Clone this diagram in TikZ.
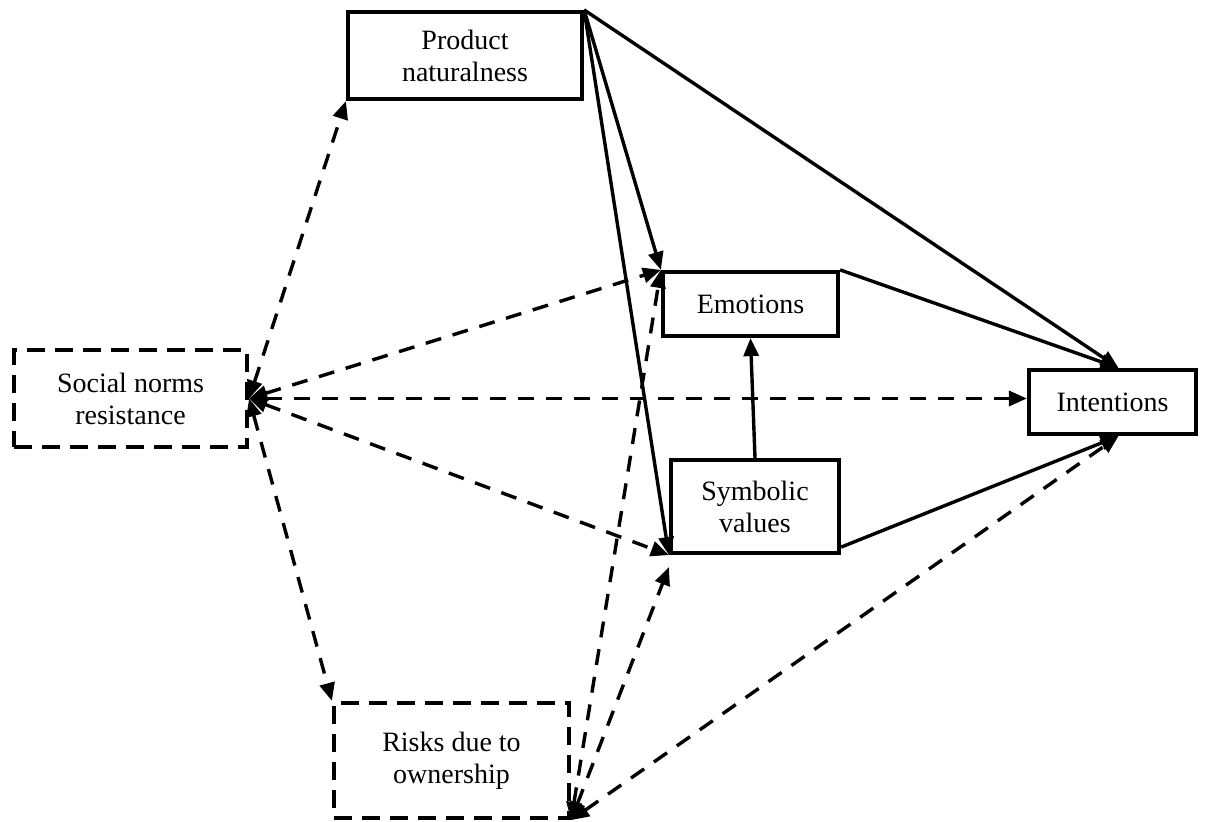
\documentclass[tikz,border=0pt]{standalone}
\usepackage{fontspec}
\setmainfont{Liberation Serif}
\usetikzlibrary{arrows.meta}
\tikzstyle{construct} = [rectangle, draw, line width = 2.1pt, align = center, inner sep = 0pt, font = \fontsize{14}{16}\selectfont]
\tikzstyle{solid construct} = [construct]
\tikzstyle{dashed construct} = [construct, dash pattern = on 9pt off 5pt]
\tikzstyle{link} = [line width = 1.7pt, -{Triangle[length = 9pt, width = 7.5pt]}]
\tikzstyle{dashed link} = [link, {Triangle[length = 9pt, width = 7.5pt]}-{Triangle[length = 9pt, width = 7.5pt]}, dash pattern = on 8pt off 6pt]
\tikzstyle{model picture} = [x = 0.5pt, y = -0.5pt]

\begin{document}
\begin{tikzpicture}[model picture]
            \useasboundingbox (0, 0) rectangle (1206, 822);
            % constructs
            \node [solid construct, minimum width = 117pt, minimum height = 43.5pt] (natural) at (465, 55.5) {Product\\naturalness};
            \node [solid construct, minimum width = 87.5pt, minimum height = 32pt] (emotions) at (750.5, 304) {Emotions};
            \node [solid construct, minimum width = 84pt, minimum height = 46.5pt] (symbolic) at (755, 506.5) {Symbolic\\values};
            \node [solid construct, minimum width = 83.5pt, minimum height = 32pt] (intentions) at (1112.5, 402) {Intentions};
            \node [dashed construct, minimum width = 116.5pt, minimum height = 48.5pt] (norms) at (130.5, 398.5) {Social norms\\resistance};
            \node [dashed construct, minimum width = 117.5pt, minimum height = 57.5pt] (risks) at (451.5, 760.5) {Risks due to\\ownership};
            % direct paths
            \draw [link] (natural.north east) -- ([xshift = 3pt]intentions.north);
            \draw [link] (natural.north east) -- (emotions.north west);
            \draw [link] (natural.north east) -- (symbolic.south west);
            \draw [link] (emotions.north east) -- ([xshift = 3pt]intentions.north);
            \draw [link] ([yshift = 4pt]symbolic.south east) -- ([xshift = 3pt]intentions.south);
            \draw [link] (symbolic.north) -- (emotions.south);
            % moderating paths
            \draw [dashed link] (norms.east) -- (natural.south west);
            \draw [dashed link] (norms.east) -- (emotions.north west);
            \draw [dashed link] (norms.east) -- ([yshift = 1.75pt]intentions.west);
            \draw [dashed link] (norms.east) -- (symbolic.south west);
            \draw [dashed link] (norms.east) -- (risks.north west);
            \draw [dashed link] (risks.south east) -- (emotions.north west);
            \draw [dashed link] (risks.south east) -- ([yshift = -6pt]symbolic.south west);
            \draw [dashed link] (risks.south east) -- ([xshift = 3pt]intentions.south);
        \end{tikzpicture}
\end{document}
